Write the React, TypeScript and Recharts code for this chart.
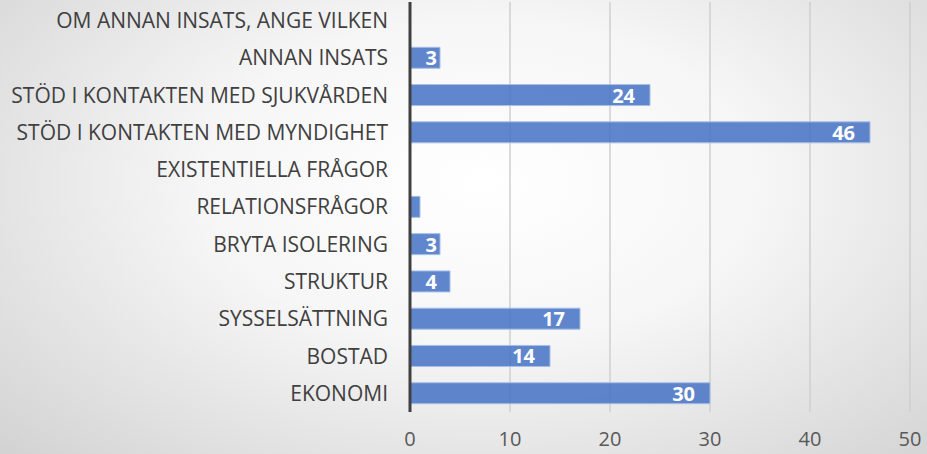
import { BarChart, Bar, XAxis, YAxis, CartesianGrid, LabelList } from "recharts";

const categories = [
  "OM ANNAN INSATS, ANGE VILKEN",
  "ANNAN INSATS",
  "STÖD I KONTAKTEN MED SJUKVÅRDEN",
  "STÖD I KONTAKTEN MED MYNDIGHET",
  "EXISTENTIELLA FRÅGOR",
  "RELATIONSFRÅGOR",
  "BRYTA ISOLERING",
  "STRUKTUR",
  "SYSSELSÄTTNING",
  "BOSTAD",
  "EKONOMI",
];
const counts = [0, 3, 24, 46, 0, 1, 3, 4, 17, 14, 30];
const xTicks = [0, 10, 20, 30, 40, 50];

const data = categories.map((name, i) => ({ name, value: counts[i] }));

const font = "'Open Sans', sans-serif";

// value label sits near the bar end, but never runs into the axis
const ValueLabel = (props: any) => {
  const { x, y, width, height, value } = props;
  if (!(Number(value) > 1)) return null;
  const text = String(value);
  const textW = text.length * 11;
  const right = Math.max(x + width - 15, x + 16 + textW);
  return (
    <text
      x={right}
      y={y + height / 2}
      textAnchor="end"
      dominantBaseline="central"
      fill="#ffffff"
      fontWeight={700}
      fontSize={20}
      fontFamily={font}
    >
      {text}
    </text>
  );
};

export default function App() {
  return (
    <div
      style={{
        position: "absolute",
        left: 0,
        top: 0,
        width: 927,
        height: 454,
        background:
          "radial-gradient(ellipse 75% 90% at 52% 40%, #ffffff 0%, #f6f6f6 40%, #d0d0d0 100%)",
      }}
    >
      <BarChart
        width={927}
        height={454}
        data={data}
        layout="vertical"
        margin={{ top: 2, right: 17, bottom: 0, left: 0 }}
      >
        <CartesianGrid horizontal={false} stroke="#cfcfcf" strokeWidth={1.5} />
        <XAxis
          type="number"
          domain={[0, 50]}
          ticks={xTicks}
          height={42}
          axisLine={false}
          tickLine={false}
          tickMargin={14}
          tick={{ fontSize: 20, fill: "#595959", fontFamily: font }}
        />
        <YAxis
          type="category"
          dataKey="name"
          width={410}
          axisLine={{ stroke: "#404040", strokeWidth: 3 }}
          tickLine={false}
          tickMargin={16}
          tick={{ fontSize: 21, fill: "#404040", fontFamily: font }}
          interval={0}
        />
        <Bar
          dataKey="value"
          barSize={21}
          fill="#4472c4"
          fillOpacity={0.85}
          stroke="#a9bfe6"
          strokeWidth={1}
          isAnimationActive={false}
        >
          <LabelList dataKey="value" content={ValueLabel} />
        </Bar>
      </BarChart>
    </div>
  );
}
